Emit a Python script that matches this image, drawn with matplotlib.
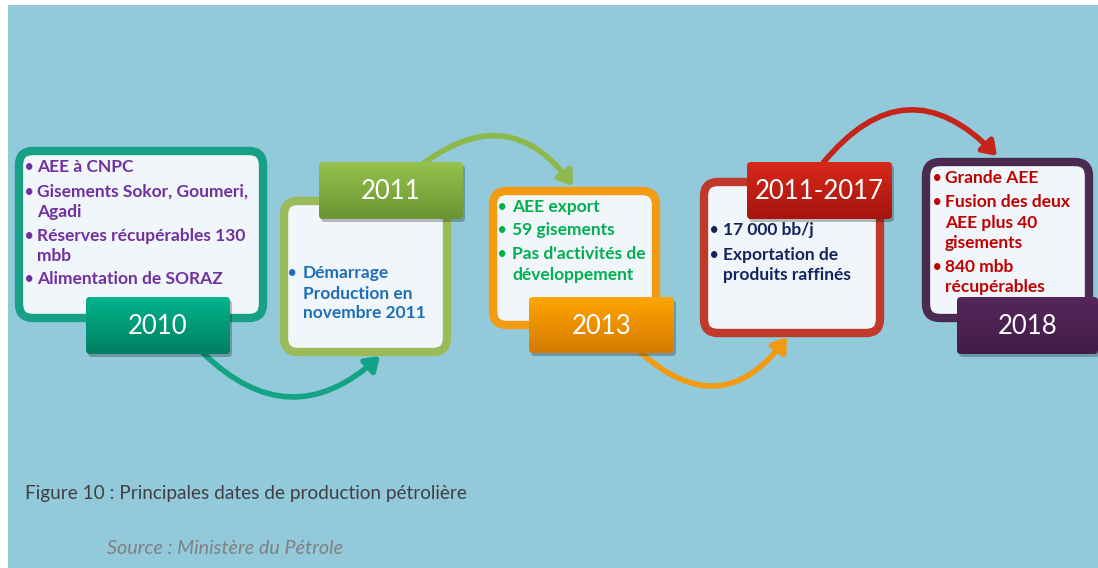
import matplotlib

matplotlib.use("Agg")
import matplotlib.pyplot as plt
import numpy as np
from matplotlib.colors import to_rgb
from matplotlib.patches import FancyArrowPatch, FancyBboxPatch, Rectangle

# timeline content
YEARS = ["2010", "2011", "2013", "2011-2017", "2018"]
BULLETS = [
    [["AEE à CNPC"], ["Gisements Sokor, Goumeri,", "Agadi"],
     ["Réserves récupérables 130", "mbb"], ["Alimentation de SORAZ"]],
    [["Démarrage", "Production en", "novembre 2011"]],
    [["AEE export"], ["59 gisements"], ["Pas d'activités de", "développement"]],
    [["17 000 bb/j"], ["Exportation de", "produits raffinés"]],
    [["Grande AEE"], ["Fusion des deux", "AEE plus 40", "gisements"],
     ["840 mbb", "récupérables"]],
]
CAPTION = "Figure 10 : Principales dates de production pétrolière"
SOURCE = "Source : Ministère du Pétrole"

# styling / layout (pixel coordinates, y downward)
BORDER = ["#17A085", "#9BBB59", "#F39C12", "#C0392B", "#4B2A52"]
LABEL_TOP = ["#00B48C", "#96C24E", "#FFA500", "#D8291A", "#54275C"]
LABEL_BOT = ["#007F62", "#6B9433", "#D67A00", "#A5140E", "#441C48"]
TEXT_COL = ["#7030A0", "#1F6FB8", "#00B050", "#13235E", "#C00000"]
BOX = [(15, 147, 252, 175), (280, 197, 171, 159), (489, 187, 171, 142),
       (700, 178, 184, 159), (922, 158, 171, 164)]
LABEL = [(86, 297, 144, 57), (319, 162, 144, 57), (529, 297, 145, 56),
         (747, 162, 145, 57), (957, 297, 141, 57)]
TEXT_X = [(29, 37), (292, 303), (502, 512), (714, 723), (937, 945)]
TEXT_Y = [[167, 192, 212, 236, 256, 279], [273, 294, 313],
          [207, 230, 254, 275], [230, 255, 275],
          [178, 202, 223, 243, 267, 287]]
ARROWS = [((203, 353), (380, 356), 0.47, "#14A384"),
          ((424, 163), (573, 186), -0.5, "#8DB84A"),
          ((640, 352), (787, 337), 0.55, "#F29A12"),
          ((823, 163), (997, 156), -0.56, "#C4241A")]

W, H = 1098, 568
BG = "#93CADB"
FONT = "Lato"


def gradient_box(ax, x, y, w, h, top, bot, z):
    shadow = FancyBboxPatch((x + 2, y + 3), w, h, boxstyle="round,pad=0,rounding_size=4",
                            fc="black", ec="none", alpha=0.25, zorder=z - 0.1)
    ax.add_patch(shadow)
    patch = FancyBboxPatch((x, y), w, h, boxstyle="round,pad=0,rounding_size=4",
                           fc="none", ec="none", zorder=z)
    ax.add_patch(patch)
    t = np.linspace(0, 1, 64)[:, None]
    grad = (1 - t)[..., None] * np.array(to_rgb(top)) + t[..., None] * np.array(to_rgb(bot))
    img = ax.imshow(np.repeat(grad, 2, axis=1), extent=(x, x + w, y + h, y),
                    origin="upper", aspect="auto", zorder=z, interpolation="bilinear")
    img.set_clip_path(patch)


def main():
    fig = plt.figure(figsize=(W / 100, H / 100), dpi=100)
    fig.patch.set_facecolor("white")
    ax = fig.add_axes([0, 0, 1, 1])
    ax.set_xlim(0, W)
    ax.set_ylim(H, 0)
    ax.axis("off")
    ax.add_patch(Rectangle((8, 5), W - 8, H - 5, fc=BG, ec="none", zorder=0))

    for (p0, p1, rad, col) in ARROWS:
        ax.add_patch(FancyArrowPatch(p0, p1, connectionstyle=f"arc3,rad={rad}",
                                     arrowstyle="-|>,head_length=8,head_width=5.5",
                                     color=col, lw=4, shrinkA=0, shrinkB=0, zorder=1))

    for i in range(len(YEARS)):
        x, y, w, h = BOX[i]
        ax.add_patch(FancyBboxPatch((x + 4, y + 4), w - 8, h - 8,
                                    boxstyle="round,pad=0,rounding_size=14",
                                    fc="#F1F6FA", ec=BORDER[i], lw=6, zorder=2 + i * 2))
        lx, ly, lw_, lh = LABEL[i]
        gradient_box(ax, lx, ly, lw_, lh, LABEL_TOP[i], LABEL_BOT[i], 3 + i * 2)
        ax.text(lx + lw_ / 2, ly + lh / 2 + 1, YEARS[i], color="white", fontsize=18.5,
                family=FONT, ha="center", va="center", zorder=3.5 + i * 2)

        bx, tx = TEXT_X[i]
        k = 0
        for item in BULLETS[i]:
            for j, line in enumerate(item):
                yy = TEXT_Y[i][k]
                if j == 0:
                    ax.text(bx, yy, "•", color=TEXT_COL[i], fontsize=10.5,
                            fontweight="bold", family=FONT, ha="center", va="center",
                            zorder=2.5 + i * 2)
                ax.text(tx, yy, line, color=TEXT_COL[i], fontsize=12.5,
                        fontweight="bold", family=FONT, ha="left", va="center",
                        zorder=2.5 + i * 2)
                k += 1

    ax.text(25, 493, CAPTION, color="#404040", fontsize=13.7, family=FONT,
            ha="left", va="center")
    ax.text(107, 548, SOURCE, color="#808080", fontsize=14.2, family=FONT,
            style="italic", ha="left", va="center")

    fig.savefig("out.png", dpi=100)


if __name__ == "__main__":
    main()
